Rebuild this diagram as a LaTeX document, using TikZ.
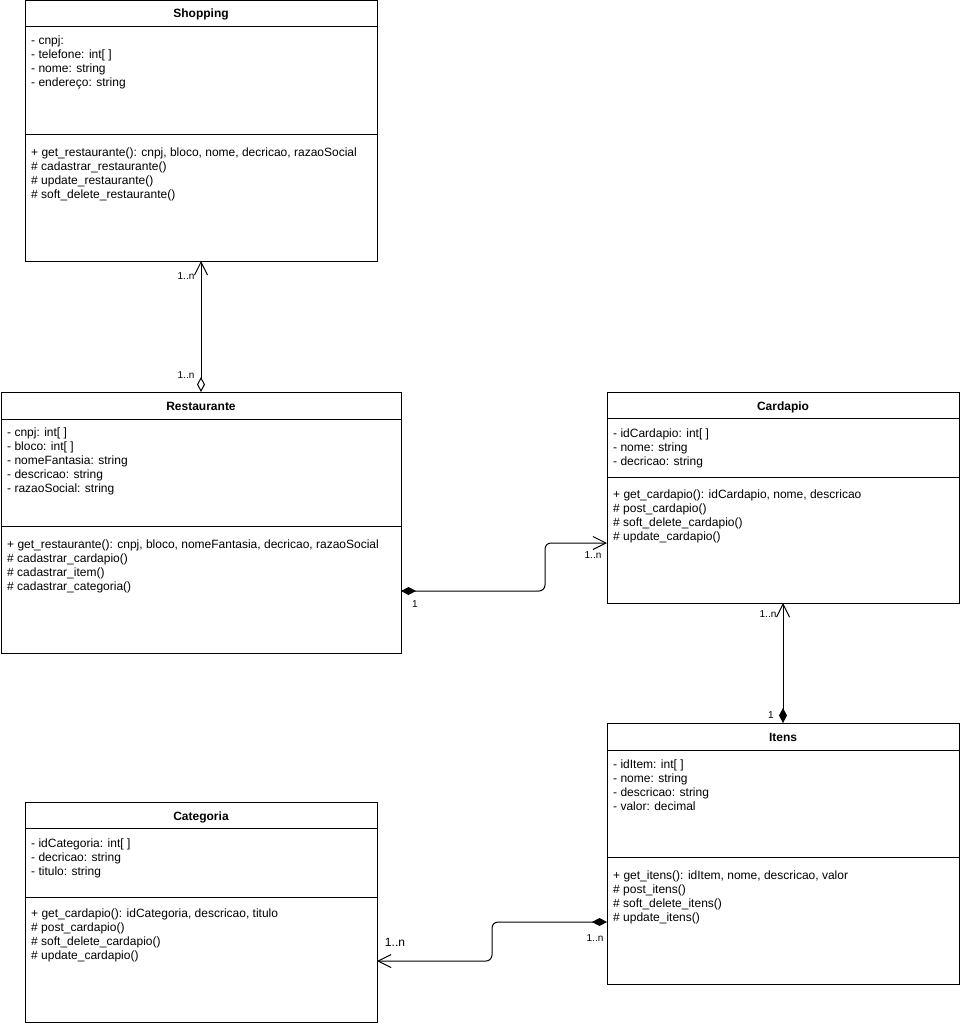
\documentclass[tikz,border=0pt]{standalone}
\usepackage{fontspec}
\setmainfont{Liberation Sans}
\usetikzlibrary{arrows.meta}
\newcommand\firststrut{\rule{0pt}{10pt}}
\begin{document}
\begin{tikzpicture}[x=1pt,y=-1pt,
  classbox/.style={draw=black, line width=1pt, anchor=north west, inner sep=0pt, outer sep=0pt},
  ctitle/.style={font=\fontsize{12}{14}\selectfont\bfseries, anchor=base, inner sep=0pt},
  members/.style={font=\fontsize{12}{14}\selectfont, anchor=north west, align=left, inner sep=0pt},
  mult/.style={font=\fontsize{10}{12}\selectfont, inner sep=0pt},
  multbig/.style={font=\fontsize{12}{14}\selectfont, inner sep=0pt},
  sep/.style={line width=1pt, draw=black},
  conn/.style={line width=1pt, draw=black},
  odiam/.tip={Diamond[open, length=15pt, width=8pt]},
  fdiam/.tip={Diamond[fill=black, length=15pt, width=8pt]},
  barb/.tip={Straight Barb[length=13pt, width=13pt]}
]
\useasboundingbox (0,0) rectangle (960,1025);

% ---------- Shopping ----------
\node[classbox, minimum width=352pt, minimum height=260pt] (shop) at (25,1) {};
\draw[sep] (shop.west |- 0,27) -- (shop.east |- 0,27);
\draw[sep] (shop.west |- 0,134) -- (shop.east |- 0,134);
\node[ctitle] (shopT) at (201,18) {Shopping};
\node[members] (shopA) at (31,34) {\firststrut- cnpj:\\- telefone: int[ ]\\- nome: string\\- endereço: string};
\node[members] (shopM) at (31,146) {\firststrut+ get\_restaurante(): cnpj, bloco, nome, decricao, razaoSocial\\\# cadastrar\_restaurante()\\\# update\_restaurante()\\\# soft\_delete\_restaurante()};

% ---------- Restaurante ----------
\node[classbox, minimum width=400pt, minimum height=261pt] (rest) at (1,392) {};
\draw[sep] (rest.west |- 0,419) -- (rest.east |- 0,419);
\draw[sep] (rest.west |- 0,526) -- (rest.east |- 0,526);
\node[ctitle] (restT) at (201,410) {Restaurante};
\node[members] (restA) at (7,426) {\firststrut- cnpj: int[ ]\\- bloco: int[ ]\\- nomeFantasia: string\\- descricao: string\\- razaoSocial: string};
\node[members] (restM) at (7,538) {\firststrut+ get\_restaurante(): cnpj, bloco, nomeFantasia, decricao, razaoSocial\\\# cadastrar\_cardapio()\\\# cadastrar\_item()\\\# cadastrar\_categoria()};

% ---------- Cardapio ----------
\node[classbox, minimum width=352pt, minimum height=211pt] (card) at (607,392) {};
\draw[sep] (card.west |- 0,418) -- (card.east |- 0,418);
\draw[sep] (card.west |- 0,477) -- (card.east |- 0,477);
\node[ctitle] (cardT) at (783,410) {Cardapio};
\node[members] (cardA) at (613,427) {\firststrut- idCardapio: int[ ]\\- nome: string\\- decricao: string};
\node[members] (cardM) at (613,488) {\firststrut+ get\_cardapio(): idCardapio, nome, descricao\\\# post\_cardapio()\\\# soft\_delete\_cardapio()\\\# update\_cardapio()};

% ---------- Itens ----------
\node[classbox, minimum width=352pt, minimum height=261pt] (itens) at (607,723) {};
\draw[sep] (itens.west |- 0,750) -- (itens.east |- 0,750);
\draw[sep] (itens.west |- 0,857) -- (itens.east |- 0,857);
\node[ctitle] (itensT) at (783,741) {Itens};
\node[members] (itensA) at (613,758) {\firststrut- idItem: int[ ]\\- nome: string\\- descricao: string\\- valor: decimal};
\node[members] (itensM) at (613,869) {\firststrut+ get\_itens(): idItem, nome, descricao, valor\\\# post\_itens()\\\# soft\_delete\_itens()\\\# update\_itens()};

% ---------- Categoria ----------
\node[classbox, minimum width=352pt, minimum height=220pt] (cat) at (25,802) {};
\draw[sep] (cat.west |- 0,828) -- (cat.east |- 0,828);
\draw[sep] (cat.west |- 0,897) -- (cat.east |- 0,897);
\node[ctitle] (catT) at (201,820) {Categoria};
\node[members] (catA) at (31,837) {\firststrut- idCategoria: int[ ]\\- decricao: string\\- titulo: string};
\node[members] (catM) at (31,907) {\firststrut+ get\_cardapio(): idCategoria, descricao, titulo\\\# post\_cardapio()\\\# soft\_delete\_cardapio()\\\# update\_cardapio()};

% ---------- Connectors ----------
\draw[conn, odiam-barb] (rest.north) -- (shop.south);
\node[mult] (m1) at (186,276) {1..n};
\node[mult] (m2) at (186,375) {1..n};

\draw[conn, rounded corners=6pt, fdiam-barb] (rest.east |- 0,591) -| (545,543) -- (card.west |- 0,543);
\node[mult] (m3) at (415,604) {1};
\node[mult] (m4) at (593,555) {1..n};

\draw[conn, fdiam-barb] (itens.north) -- (card.south);
\node[mult] (m5) at (768,614) {1..n};
\node[mult] (m6) at (771,715) {1};

\draw[conn, rounded corners=6pt, fdiam-barb] (itens.west |- 0,922) -| (492,961) -- (cat.east |- 0,961);
\node[mult] (m7) at (595,938) {1..n};
\node[multbig] (m8) at (395,942) {1..n};
\end{tikzpicture}
\end{document}
